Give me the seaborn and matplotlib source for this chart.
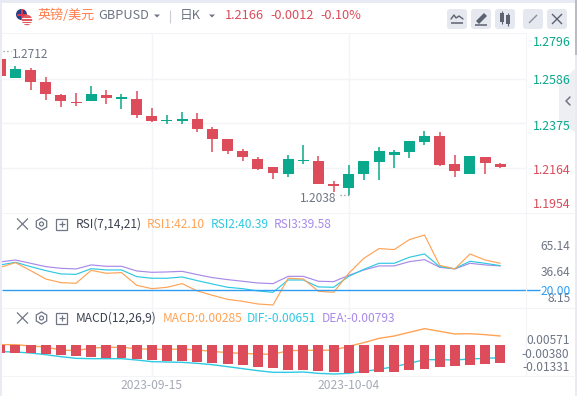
import numpy as np
import pandas as pd
import matplotlib
matplotlib.use("Agg")
import matplotlib.pyplot as plt
from matplotlib.patches import Circle, FancyBboxPatch, Polygon, RegularPolygon, Rectangle
import seaborn as sns

sns.set_theme(style="white")
plt.rcParams['font.family'] = ['Noto Sans CJK SC', 'DejaVu Sans']

# ---------- data ----------
opens = [1.2679,1.2589,1.2627,1.2570,1.2509,1.2476,1.2480,1.2509,1.2490,1.2490,1.2410,1.2388,1.2388,1.2395,1.2348,1.2301,1.2244,1.2207,1.2169,1.2136,
         1.2197,1.2197,1.2089,1.2070,1.2136,1.2193,1.2226,1.2240,1.2287,1.2315,1.2183,1.2136,1.2216,1.2183]
closes = [1.2598,1.2631,1.2570,1.2513,1.2480,1.2471,1.2513,1.2495,1.2499,1.2414,1.2386,1.2391,1.2395,1.2348,1.2301,1.2244,1.2216,1.2160,1.2141,1.2207,
          1.2202,1.2089,1.2079,1.2136,1.2197,1.2244,1.2240,1.2292,1.2315,1.2178,1.2150,1.2221,1.2188,1.2169]
highs = [1.2712,1.2646,1.2636,1.2594,1.2513,1.2518,1.2551,1.2532,1.2513,1.2528,1.2447,1.2414,1.2429,1.2424,1.2358,1.2301,1.2254,1.2216,1.2169,1.2226,
         1.2273,1.2221,1.2103,1.2178,1.2197,1.2263,1.2249,1.2292,1.2339,1.2334,1.2226,1.2221,1.2216,1.2188]
lows = [1.2598,1.2589,1.2532,1.2485,1.2452,1.2457,1.2480,1.2466,1.2443,1.2400,1.2381,1.2372,1.2372,1.2334,1.2240,1.2230,1.2198,1.2155,1.2112,1.2122,
        1.2183,1.2089,1.2051,1.2038,1.2108,1.2108,1.2164,1.2211,1.2273,1.2174,1.2122,1.2136,1.2136,1.2164]

rsi1 = [45.2,50.3,41.6,32.4,28.4,27.7,41.9,38.6,39.4,25.5,21.8,23.3,27.3,19.3,14.5,10.1,7.9,5.0,3.9,33.2,
        32.4,18.9,17.8,38.6,55.1,65.7,64.6,75.5,80.6,47.4,43.4,59.8,53.2,49.6]
rsi2 = [47.8,50.7,45.9,41.6,37.9,37.5,43.7,42.3,42.3,35.0,33.2,33.2,34.6,30.6,26.9,23.3,21.8,19.3,17.8,31.3,
        31.3,23.7,23.3,35.3,43.0,49.6,49.6,56.2,59.8,45.9,43.7,51.8,49.6,47.0]
rsi3 = [51.1,53.2,49.6,45.9,44.1,43.4,47.8,46.3,46.3,41.2,39.7,40.1,40.8,37.2,33.9,31.7,29.9,28.0,27.3,35.3,
        35.3,29.9,29.5,36.4,42.3,46.7,46.7,51.4,53.6,45.2,43.4,49.6,47.8,46.7]

macd_bar = [-.00564,-.00564,-.00564,-.00635,-.00705,-.00776,-.00846,-.00917,-.00917,-.00987,-.01058,-.01128,-.01128,-.01199,-.01269,-.0134,-.0141,-.01551,-.01622,-.01763,
            -.01763,-.01833,-.01904,-.01974,-.01974,-.01904,-.01904,-.01763,-.01692,-.01551,-.0148,-.0141,-.0134,-.01269]
macd_up = [.00024,.00024,-.0007,-.00141,-.00353,-.004,-.00212,-.00165,-.00165,-.00259,-.00306,-.00306,-.00282,-.00353,-.00447,-.00541,-.00588,-.00635,-.00658,-.004,
           -.00376,-.00376,-.00353,-.00094,.00165,.0047,.00635,.00893,.01152,.00964,.00776,.00799,.00729,.00635]
macd_dn = [-.0047,-.00494,-.00564,-.00682,-.00823,-.0094,-.00964,-.00964,-.00964,-.01058,-.01175,-.01199,-.01222,-.01293,-.01387,-.01528,-.01669,-.0181,-.01927,-.01927,
           -.01904,-.02,-.02045,-.02,-.01857,-.01716,-.01528,-.01293,-.01034,-.01034,-.01058,-.00987,-.0094,-.00893]

price_ticks = [1.2796, 1.2586, 1.2375, 1.2164, 1.1954]
grid_prices = [1.2586, 1.2375, 1.2164]
date_labels = ["2023-09-15", "2023-10-04"]
date_idx = [10, 23]

RED, GREEN = "#dc4c5b", "#0aa88c"
ORANGE, CYAN, PURPLE, BLUE = "#ffa356", "#2ec9e2", "#a88ae8", "#2f9df4"
GRID, GRAY = "#f3f4f7", "#6f7585"

W, H = 577, 396
fig = plt.figure(figsize=(W/100, H/100), dpi=100, facecolor="#e8ebf3")

def axpx(x0, y0, x1, y1, **kw):
    return fig.add_axes([x0/W, 1-y1/H, (x1-x0)/W, (y1-y0)/H], **kw)

xlim = ((2-0.3)/15.15, (526-0.3)/15.15)
n = len(opens)
idx = np.arange(n)
ax_p = axpx(2, 34, 526, 213)
ax_r = axpx(2, 213, 526, 307.5)
ax_m = axpx(2, 307.5, 526, 376)
for a in (ax_p, ax_r, ax_m):
    a.set_xlim(*xlim)
    a.set_xticks([]); a.set_yticks([])
    a.set_xlabel(""); a.set_ylabel("")
    for s in a.spines.values():
        s.set_visible(False)
    for d in date_idx:
        a.axvline(d, color=GRID, lw=1.0, zorder=0)

# price pane
ax_p.set_ylim(1.1952, 1.2796)
for g in grid_prices:
    ax_p.axhline(g, color=GRID, lw=1.0, zorder=0)
df = pd.DataFrame(dict(i=idx, o=opens, c=closes, h=highs, l=lows))
df["col"] = np.where(df.c >= df.o, GREEN, RED)
ax_p.vlines(df.i, df.l, df.h, colors=df.col, lw=1.1, zorder=2)
ax_p.bar(df.i, (df.c-df.o).abs(), bottom=df[["o", "c"]].min(axis=1), width=0.72, color=df.col, zorder=3, linewidth=0)

# RSI pane
ax_r.set_ylim(1.15, 104.7)
rdf = pd.DataFrame(dict(i=idx, a=rsi1, b=rsi2, c=rsi3))
for col, colr in (("c", PURPLE), ("b", CYAN), ("a", ORANGE)):
    sns.lineplot(data=rdf, x="i", y=col, ax=ax_r, color=colr, lw=0.85, errorbar=None, zorder=3)
ax_r.hlines(20, xlim[0], (540-0.3)/15.15, color=BLUE, lw=1.0, clip_on=False, zorder=4)
ax_r.set_xlabel(""); ax_r.set_ylabel("")

# MACD pane
ax_m.set_ylim(-.02186, .02644)
mdf = pd.DataFrame(dict(i=idx, u=macd_up, d=macd_dn, b=macd_bar))
sns.lineplot(data=mdf, x="i", y="u", ax=ax_m, color=ORANGE, lw=1.0, errorbar=None, zorder=2)
sns.lineplot(data=mdf, x="i", y="d", ax=ax_m, color=CYAN, lw=1.0, errorbar=None, zorder=2)
ax_m.bar(mdf.i, mdf.b, width=0.66, color=RED, zorder=3, linewidth=0)
ax_m.set_xlabel(""); ax_m.set_ylabel("")

# chrome overlay (pixel space)
ch = fig.add_axes([0, 0, 1, 1], facecolor="none", zorder=10)
ch.set_xlim(0, W); ch.set_ylim(H, 0); ch.axis("off")
bg = fig.add_axes([0, 0, 1, 1], facecolor="none", zorder=-1)
bg.set_xlim(0, W); bg.set_ylim(H, 0); bg.axis("off")
bg.add_patch(Rectangle((2, 3), 573, 393, color="white", lw=0))
ch.add_patch(Rectangle((575, 0), 2, 55, color="#b9bcc4", lw=0))

def line(xs, ys, c=GRID, lw=0.8):
    ch.plot(xs, ys, color=c, lw=lw, solid_capstyle="butt")

line([2, 526], [33, 33]); line([526, 526], [33, 376]); line([2, 575], [213, 213])
line([2, 575], [307.5, 307.5]); line([2, 575], [376, 376])

def t(x, y, s, c=GRAY, size=8.6, ha="left", **kw):
    ch.text(x, y, s, color=c, fontsize=size, ha=ha, va="center", **kw)

# header
ch.add_patch(Circle((21.5, 14.5), 5.5, color="#2c3f87", lw=0))
line([16.5, 26.5], [14.5, 14.5], "#e0394a", 1.4); line([21.5, 21.5], [9, 20], "#e0394a", 1.4)
ch.add_patch(Circle((27, 20), 5.2, color="#e05a62", lw=0, zorder=3))
for yy in (18, 20.5, 23):
    ch.plot([22.3, 31.7], [yy, yy], color="white", lw=0.7, zorder=4)
t(37, 15.5, "英镑/美元", "#ff7f4d", 9.4)
t(98, 15.5, "GBPUSD", GRAY, 9.2)
for cx in (157, 212):
    ch.add_patch(Polygon([[cx-3, 14.5], [cx+3, 14.5], [cx, 17.5]], color=GRAY, lw=0))
line([170, 170], [10, 23], "#c8ccd6", 0.8)
t(180, 15.5, "日K", GRAY, 9.2)
t(225, 15.5, "1.2166", RED, 9.2, fontweight="medium")
t(270, 15.5, "-0.0012", RED, 9.2, fontweight="medium")
t(320.5, 15.5, "-0.10%", RED, 9.2, fontweight="medium")

for bx in (447, 471, 495, 523, 547):
    ch.add_patch(FancyBboxPatch((bx+2, 11), 16, 16, boxstyle="round,pad=2,rounding_size=3", color="#e6e8ef", lw=0))
ic = "#5c6270"
ch.plot([451, 454, 456, 459, 463], [19, 15, 18, 16, 19], color=ic, lw=1)
line([451, 463], [23, 23], ic, 1.1)
ch.add_patch(Polygon([[476, 21], [484, 13], [487, 16], [479, 24]], color=ic, lw=0))
line([475, 487], [24.5, 24.5], ic, 1.1)
for cx, yt, h in ((502, 13, 9), (508, 15, 9)):
    ch.add_patch(Rectangle((cx-2, yt), 4, h, color=ic, lw=0))
    line([cx, cx], [yt-2, yt+h+2], ic, 0.8)
line([529, 537], [23, 15], "#8a8f9c", 1.0)
line([552, 562], [14, 24], ic, 1.0); line([552, 562], [24, 14], ic, 1.0)

# price axis labels
pcol = [GREEN, GREEN, GREEN, RED, RED]
py = [43, 81, 126, 171, 204.5]
for v, y, c in zip(price_ticks, py, pcol):
    t(532.5, y, f"{v:.4f}", c, 8.9)
ch.plot([3, 10.5], [51, 51], color="#8a8f9c", lw=0.9, ls=(0, (1, 2)))
t(12, 54.5, "1.2712", GRAY, 8.6)
t(300, 198, "1.2038", GRAY, 8.6)
ch.plot([340, 349], [195, 195], color="#8a8f9c", lw=0.9, ls=(0, (1, 2)))

# collapse handle
ch.add_patch(Polygon([[575, 69], [559, 83], [559, 122], [575, 132]], color="#eeeff2", lw=0, zorder=1))
ch.plot([570, 566, 570], [97, 101, 105], color=GRAY, lw=1.1)

# pane toolbars
for y in (224, 318):
    line([17, 28], [y-5.5, y+5.5], GRAY, 0.9); line([17, 28], [y+5.5, y-5.5], GRAY, 0.9)
    ch.add_patch(RegularPolygon((41.5, y), 6, radius=6, fill=False, ec=GRAY, lw=0.9))
    ch.add_patch(Circle((41.5, y), 2, fill=False, ec=GRAY, lw=0.9))
    ch.add_patch(Rectangle((56, y-5.5), 11, 11, fill=False, ec=GRAY, lw=0.9))
    line([58.5, 64.5], [y, y], GRAY, 0.9); line([61.5, 61.5], [y-3, y+3], GRAY, 0.9)

t(76, 224.5, "RSI(7,14,21)", "#3c4150", 8.6)
t(147, 224.5, "RSI1:42.10", ORANGE, 8.6)
t(211, 224.5, "RSI2:40.39", CYAN, 8.6)
t(274, 224.5, "RSI3:39.58", PURPLE, 8.6)
t(76, 318.5, "MACD(12,26,9)", "#3c4150", 8.6)
t(162.5, 318.5, "MACD:0.00285", ORANGE, 8.6)
t(247, 318.5, "DIF:-0.00651", CYAN, 8.6)
t(321.5, 318.5, "DEA:-0.00793", PURPLE, 8.6)

for s, y, c in (("65.14", 246.5, GRAY), ("36.64", 272.5, GRAY), ("8.15", 299, GRAY), ("20.00", 291.5, BLUE)):
    t(570.5, y, s, c, 8.6, ha="right")
for s, y in (("0.00571", 340.5), ("-0.00380", 354.5), ("-0.01331", 367.5)):
    t(569.5, y, s, GRAY, 8.6, ha="right")

for d, s in zip(date_idx, date_labels):
    t(0.3+15.15*d, 385.5, s, "#a6aab6", 8.7, ha="center")

fig.savefig("out.png", dpi=100, facecolor=fig.get_facecolor())
